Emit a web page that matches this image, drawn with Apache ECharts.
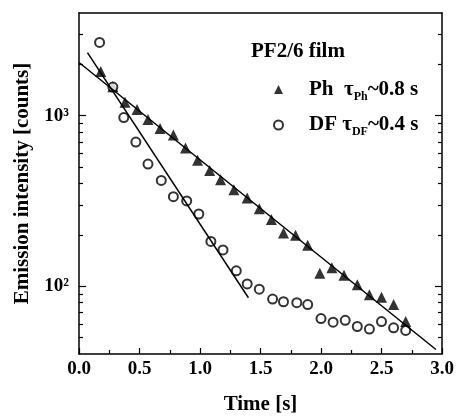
<!DOCTYPE html>
<html>
<head>
<meta charset="utf-8">
<script src="https://cdn.jsdelivr.net/npm/echarts@6/dist/echarts.min.js"></script>
<style>
html,body{margin:0;padding:0;background:#fff;}
#c{width:458px;height:420px;}
</style>
</head>
<body>
<div id="c"></div>
<script>
// Ph (phosphorescence) data
const phTime = [0.18,0.28,0.38,0.48,0.57,0.67,0.78,0.88,0.98,1.08,1.17,1.28,1.39,1.49,1.59,1.69,1.79,1.89,1.99,2.09,2.19,2.30,2.40,2.50,2.60,2.70];
const phCounts = [1815,1475,1200,1085,950,840,770,645,547,476,421,368,329,284,246,205,199,174,119,128,116,102,89,86,78,62];
// DF (delayed fluorescence) data
const dfTime = [0.17,0.28,0.37,0.47,0.57,0.68,0.78,0.89,0.99,1.09,1.19,1.30,1.39,1.49,1.60,1.69,1.80,1.89,2.00,2.10,2.20,2.30,2.40,2.50,2.60,2.70];
const dfCounts = [2690,1470,975,700,520,417,335,316,265,183,163,123,103,96,84,81,80,78,64.5,61.5,63,58,56,62,57,55];
// fitted lines (end points)
const phFitTime = [0, 2.95];
const phFitCounts = [2050, 42.5];
const dfFitTime = [0.07, 1.40];
const dfFitCounts = [2345, 85.5];
// axis ticks
const xMin = 0, xMax = 3, xInterval = 0.5;
const yMin = 40, yMax = 4000;
const yMajor = [100, 1000];
const yMinor = [50,60,70,80,90,200,300,400,500,600,700,800,900,2000,3000];
const yLabels = {100: '10²', 1000: '10³'};

const FONT = 'Liberation Serif';
const INK = '#000';

function pairs(xs, ys){ return xs.map((x,i)=>[x, ys[i]]); }

const chart = echarts.init(document.getElementById('c'), null, {renderer:'canvas'});

function yAxisDef(pos, major){
  return {
    type: 'log', logBase: 10, min: yMin, max: yMax, position: pos,
    axisLine: {show: major, lineStyle: {color: INK, width: 1.5}},
    axisTick: {show: true, inside: true, length: major ? 7 : 4, customValues: major ? yMajor : yMinor,
               lineStyle: {color: INK, width: 1.2}},
    axisLabel: (major && pos === 'left') ? {
      show: true, customValues: yMajor, margin: 10,
      formatter: v => yLabels[Math.round(v)] || '',
      fontFamily: FONT, fontSize: 19, fontWeight: 'bold', color: INK
    } : {show: false},
    splitLine: {show: false},
    minorTick: {show: false},
    name: (major && pos === 'left') ? 'Emission intensity [counts]' : '',
    nameLocation: 'middle', nameGap: 46, nameRotate: 90,
    nameTextStyle: {fontFamily: FONT, fontSize: 21, fontWeight: 'bold', color: INK}
  };
}

const rich = {
  p: {fontFamily: FONT, fontSize: 21, fontWeight: 'bold', color: INK, lineHeight: 26, padding: [0,0,0,21]},
  a: {fontFamily: FONT, fontSize: 21, fontWeight: 'bold', color: INK, lineHeight: 26},
  s: {fontFamily: FONT, fontSize: 12, fontWeight: 'bold', color: INK, lineHeight: 12, verticalAlign: 'bottom'}
};

chart.setOption({
  animation: false,
  backgroundColor: '#fff',
  grid: {left: 79, right: 16, top: 13, bottom: 63, containLabel: false},
  title: {
    text: 'PF2/6 film', left: 246, top: 36,
    textStyle: {fontFamily: FONT, fontSize: 21, fontWeight: 'bold', color: INK}
  },
  legend: {
    orient: 'vertical', left: 268, top: 74, itemGap: 12,
    itemWidth: 9, itemHeight: 9,
    data: ['Ph', 'DF'],
    formatter: name => name === 'Ph'
      ? '{p|Ph  τ}{s|Ph}{a|~0.8 s}'
      : '{p|DF τ}{s|DF}{a|~0.4 s}',
    textStyle: {rich: rich}
  },
  xAxis: [{
    type: 'value', min: xMin, max: xMax, interval: xInterval, position: 'bottom',
    axisLine: {show: true, onZero: false, lineStyle: {color: INK, width: 1.5}},
    axisTick: {show: true, inside: true, length: 6, lineStyle: {color: INK, width: 1.2}},
    minorTick: {show: true, splitNumber: 2, length: 4, lineStyle: {color: INK, width: 1.2}},
    axisLabel: {margin: 6, formatter: v => v.toFixed(1), fontFamily: FONT, fontSize: 19, fontWeight: 'bold', color: INK},
    splitLine: {show: false},
    name: 'Time [s]', nameLocation: 'middle', nameGap: 40,
    nameTextStyle: {fontFamily: FONT, fontSize: 21, fontWeight: 'bold', color: INK}
  }, {
    type: 'value', min: xMin, max: xMax, interval: xInterval, position: 'top',
    axisLine: {show: true, onZero: false, lineStyle: {color: INK, width: 1.5}},
    axisTick: {show: false}, axisLabel: {show: false}, splitLine: {show: false}
  }],
  yAxis: [
    yAxisDef('left', true),
    yAxisDef('left', false),
    yAxisDef('right', true),
    yAxisDef('right', false)
  ],
  series: [
    {
      name: 'Ph', type: 'scatter', xAxisIndex: 0, yAxisIndex: 0, z: 3,
      symbol: 'triangle', symbolSize: 11,
      itemStyle: {color: INK},
      data: pairs(phTime, phCounts)
    },
    {
      name: 'DF', type: 'scatter', xAxisIndex: 0, yAxisIndex: 0, z: 3,
      symbol: 'emptyCircle', symbolSize: 9,
      itemStyle: {color: INK, borderWidth: 1.5},
      data: pairs(dfTime, dfCounts)
    },
    {
      name: 'Ph fit', type: 'line', xAxisIndex: 0, yAxisIndex: 0, z: 4,
      showSymbol: false, symbol: 'none', silent: true,
      lineStyle: {color: INK, width: 1.5},
      data: pairs(phFitTime, phFitCounts)
    },
    {
      name: 'DF fit', type: 'line', xAxisIndex: 0, yAxisIndex: 0, z: 4,
      showSymbol: false, symbol: 'none', silent: true,
      lineStyle: {color: INK, width: 1.5},
      data: pairs(dfFitTime, dfFitCounts)
    }
  ]
});
</script>
</body>
</html>
